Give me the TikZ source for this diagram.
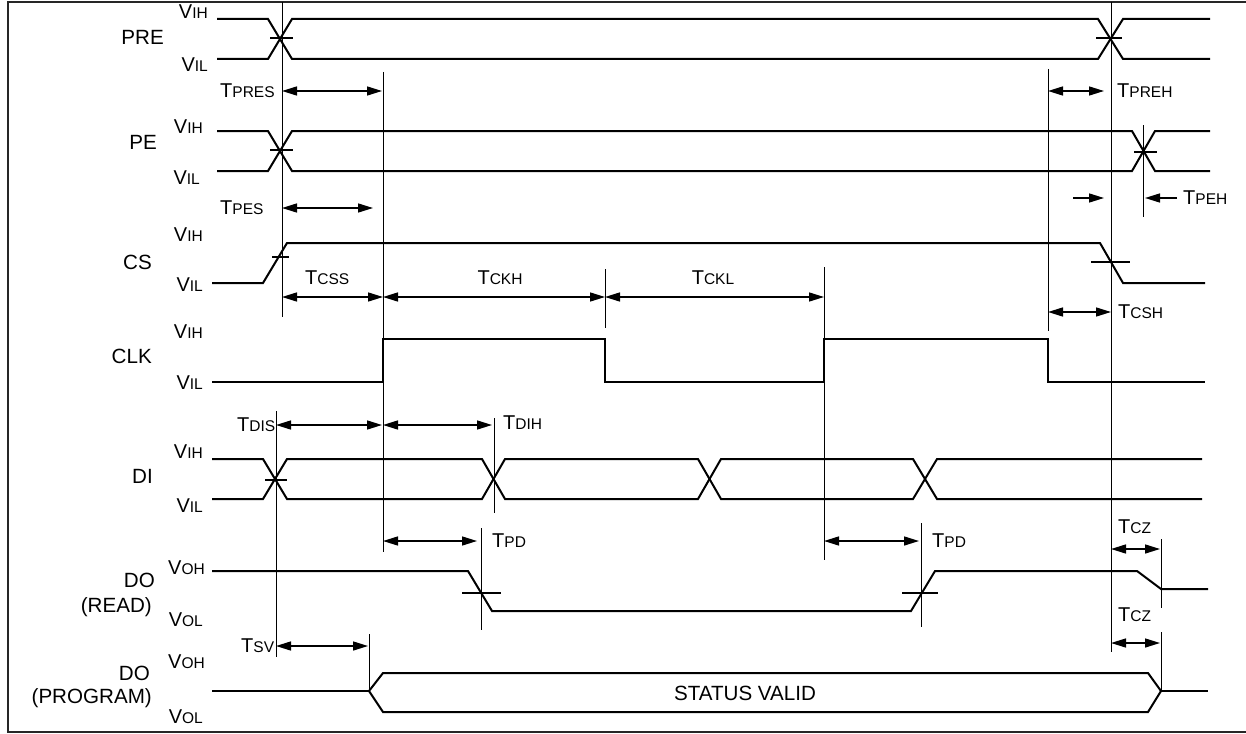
\documentclass[tikz,border=0pt]{standalone}
\usepackage{fontspec}
\setmainfont{Liberation Sans}
\usetikzlibrary{arrows.meta}
\newcommand\tx[2]{{\fontsize{20}{22}\selectfont #1}{\fontsize{15.5}{17}\selectfont #2}}
\begin{document}
\begin{tikzpicture}[x=1pt,y=-1pt,
  sig/.style={line width=2pt, line join=miter},
  tick/.style={line width=2pt},
  mk/.style={line width=1pt},
  dim/.style={line width=1.5pt, {Triangle[length=15pt,width=9pt]}-{Triangle[length=15pt,width=9pt]}},
  rdim/.style={line width=1.5pt, -{Triangle[length=15pt,width=9pt]}},
  big/.style={inner sep=0pt, font=\fontsize{20.6}{23}\selectfont},
  lab/.style={inner sep=0pt}]
\useasboundingbox (0,0) rectangle (1246,733);
% frame
\draw[line width=2pt, black!85] (1250,2) -- (7.5,2) -- (7.5,731.5) -- (1250,731.5);

% ---------- signal names ----------
\node[big, anchor=east] (nPRE) at (164,37) {PRE};
\node[big, anchor=east] (nPE) at (157,142) {PE};
\node[big, anchor=east] (nCS) at (152,262) {CS};
\node[big, anchor=east] (nCLK) at (152,356) {CLK};
\node[big, anchor=east] (nDI) at (153,476) {DI};
\node[big, anchor=east] (nDOr) at (155,580) {DO};
\node[big, anchor=east] (nREAD) at (152,607) {(READ)};
\node[big, anchor=east] (nDOp) at (150,673) {DO};
\node[big, anchor=east] (nPROG) at (152,698) {(PROGRAM)};

% ---------- level labels ----------
\node[lab, anchor=east] (l1) at (208,12) {\tx{V}{IH}};
\node[lab, anchor=east] (l2) at (208,65) {\tx{V}{IL}};
\node[lab, anchor=east] (l3) at (203,127) {\tx{V}{IH}};
\node[lab, anchor=east] (l4) at (200,178) {\tx{V}{IL}};
\node[lab, anchor=east] (l5) at (203,235) {\tx{V}{IH}};
\node[lab, anchor=east] (l6) at (203,285) {\tx{V}{IL}};
\node[lab, anchor=east] (l7) at (203,332) {\tx{V}{IH}};
\node[lab, anchor=east] (l8) at (203,383) {\tx{V}{IL}};
\node[lab, anchor=east] (l9) at (203,452) {\tx{V}{IH}};
\node[lab, anchor=east] (l10) at (203,506) {\tx{V}{IL}};
\node[lab, anchor=east] (l11) at (205,568) {\tx{V}{OH}};
\node[lab, anchor=east] (l12) at (203,620) {\tx{V}{OL}};
\node[lab, anchor=east] (l13) at (205,662) {\tx{V}{OH}};
\node[lab, anchor=east] (l14) at (203,717) {\tx{V}{OL}};

% ---------- timing labels ----------
\node[lab, anchor=west] (tPRES) at (220,91) {\tx{T}{PRES}};
\node[lab, anchor=west] (tPES) at (220,208) {\tx{T}{PES}};
\node[lab, anchor=west] (tPREH) at (1117,91) {\tx{T}{PREH}};
\node[lab, anchor=west] (tPEH) at (1183,198) {\tx{T}{PEH}};
\node[lab, anchor=west] (tCSS) at (305,278) {\tx{T}{CSS}};
\node[lab] (tCKH) at (500,278) {\tx{T}{CKH}};
\node[lab] (tCKL) at (713,278) {\tx{T}{CKL}};
\node[lab, anchor=west] (tCSH) at (1118,312) {\tx{T}{CSH}};
\node[lab, anchor=west] (tDIS) at (237,425) {\tx{T}{DIS}};
\node[lab, anchor=west] (tDIH) at (503,423) {\tx{T}{DIH}};
\node[lab, anchor=west] (tPD1) at (492,541) {\tx{T}{PD}};
\node[lab, anchor=west] (tPD2) at (932,541) {\tx{T}{PD}};
\node[lab, anchor=west] (tCZ1) at (1118,527) {\tx{T}{CZ}};
\node[lab, anchor=west] (tCZ2) at (1118,615) {\tx{T}{CZ}};
\node[lab, anchor=west] (tSV) at (241,646) {\tx{T}{SV}};
\node[big] (status) at (745,693) {STATUS VALID};

% ---------- marker verticals ----------
\draw[mk] (282,2) -- (282,317);
\draw[mk] (383,72) -- (383,552);
\draw[mk] (1111,2) -- (1111,652);
\draw[mk] (1048,69) -- (1048,331);
\draw[mk] (1143,125) -- (1143,217);
\draw[mk] (605,269) -- (605,328);
\draw[mk] (824,267) -- (824,560);
\draw[mk] (276,411) -- (276,657);
\draw[mk] (494,418) -- (494,513);
\draw[mk] (481,528) -- (481,630);
\draw[mk] (921,523) -- (921,627);
\draw[mk] (1161,539) -- (1161,608);
\draw[mk] (1161,632) -- (1161,691);
\draw[mk] (369,634) -- (369,691);

% ---------- PRE ----------
\draw[sig] (217,19) -- (268,19) -- (292,59) -- (1098,59) -- (1123,19) -- (1210,19);
\draw[sig] (217,59) -- (268,59) -- (292,19) -- (1098,19) -- (1123,59) -- (1210,59);
\draw[tick] (270,38) -- (293,38);
\draw[tick] (1096,38) -- (1122,38);

% ---------- PE ----------
\draw[sig] (217,131) -- (268,131) -- (292,171) -- (1132,171) -- (1155,131) -- (1210,131);
\draw[sig] (217,171) -- (268,171) -- (292,131) -- (1132,131) -- (1155,171) -- (1210,171);
\draw[tick] (270,150) -- (293,150);
\draw[tick] (1134,152) -- (1157,152);

% ---------- CS ----------
\draw[sig] (212,283) -- (263,283) -- (287,243) -- (1100,243) -- (1123,283) -- (1205,283);
\draw[tick] (272,257) -- (289,257);
\draw[tick] (1091,262) -- (1130,262);

% ---------- CLK ----------
\draw[sig] (212,382) -- (383,382) -- (383,339) -- (605,339) -- (605,382) -- (824,382)
  -- (824,339) -- (1048,339) -- (1048,382) -- (1205,382);

% ---------- DI ----------
\draw[sig] (212,459) -- (263,459) -- (287,499) -- (482,499) -- (505,459) -- (698,459)
  -- (721,499) -- (913,499) -- (937,459) -- (1202,459);
\draw[sig] (212,499) -- (263,499) -- (287,459) -- (482,459) -- (505,499) -- (698,499)
  -- (721,459) -- (913,459) -- (937,499) -- (1202,499);
\draw[tick] (265,480) -- (287,480);

% ---------- DO (READ) ----------
\draw[sig] (212,571) -- (468,571) -- (492,611) -- (911,611) -- (935,571) -- (1137,571)
  -- (1161,589) -- (1208,589);
\draw[tick] (462,593) -- (501,593);
\draw[tick] (902,593) -- (938,593);

% ---------- DO (PROGRAM) ----------
\draw[sig] (212,691) -- (369,691);
\draw[sig] (369,691) -- (383,673) -- (1148,673) -- (1161,691) -- (1148,712) -- (383,712) -- cycle;
\draw[sig] (1161,691) -- (1208,691);

% ---------- dimension arrows ----------
\draw[dim] (282,91) -- (382,91);
\draw[dim] (1048,91) -- (1104,91);
\draw[dim] (282,208) -- (373,208);
\draw[rdim] (1073,198) -- (1104,198);
\draw[rdim] (1177,198) -- (1145,198);
\draw[dim] (282,297) -- (383,297);
\draw[dim] (383,297) -- (605,297);
\draw[dim] (605,297) -- (824,297);
\draw[dim] (1048,312) -- (1111,312);
\draw[dim] (276,425) -- (382,425);
\draw[dim] (383,425) -- (492,425);
\draw[dim] (383,541) -- (477,541);
\draw[dim] (824,541) -- (919,541);
\draw[dim] (1111,549) -- (1160,549);
\draw[dim] (1111,643) -- (1160,643);
\draw[dim] (276,646) -- (368,646);
\end{tikzpicture}
\end{document}
